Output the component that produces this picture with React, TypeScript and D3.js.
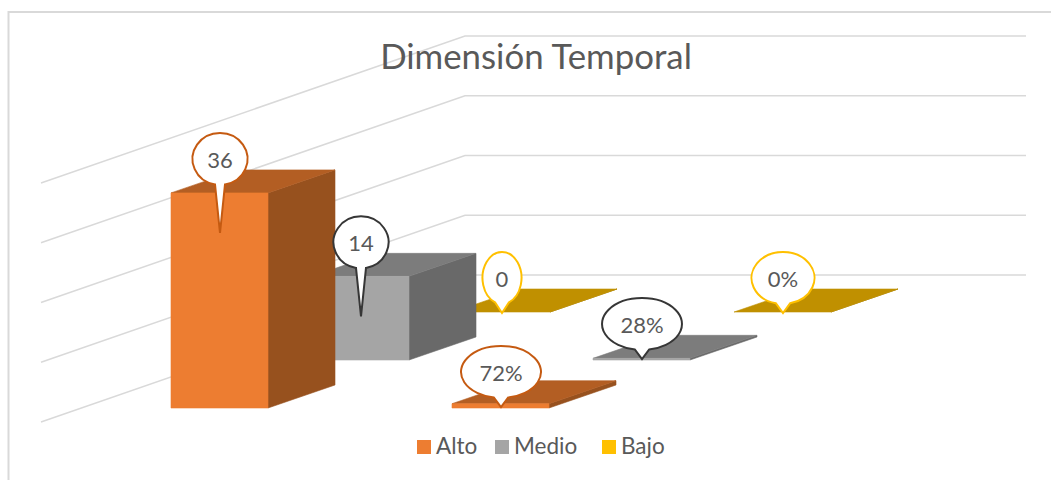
import React from "react";
import * as d3 from "d3";

const WIDTH = 1051;
const HEIGHT = 480;
const FONT = "Lato, Carlito, 'Open Sans', sans-serif";

const title = "Dimensión Temporal";
const seriesNames = ["Alto", "Medio", "Bajo"];
const countValues = [36, 14, 0];
const shareValues = [0.72, 0.28, 0];
const countLabels = ["36", "14", "0"];
const shareLabels = ["72%", "28%", "0%"];
const gridTicks = [0, 10, 20, 30, 40];
const frontColors = ["#ed7d31", "#a5a5a5", "#ffc000"];
const topColors = ["#b35e23", "#7c7c7c", "#c09000"];
const sideColors = ["#97511e", "#696969", "#a37a00"];
const strokeColors = ["#c55a11", "#363636", "#ffc000"];
const legendSwatches = ["#ed7d31", "#a5a5a5", "#ffc000"];

// Projected scales of the pseudo-3D plot
const catX = d3.scaleLinear().domain([0, 1]).range([171, 452]);
const seriesDX = d3.scaleLinear().domain([0, 1]).range([0, 141]);
const seriesBase = d3.scaleLinear().domain([0, 1]).range([408, 360]);
const heightScale = d3.scaleLinear().domain([0, 40]).range([0, 239]);
const BAR_W = 97;
const DEPTH_X = 67;
const DEPTH_Y = -23;

const gridFront = d3.scaleLinear().domain([0, 40]).range([422, 183]);
const GRID_DX = 424;
const GRID_DY = -147;
const GRID_LEFT = 41;
const GRID_RIGHT = 1026;

const poly = (pts: [number, number][]) => d3.line()(pts) + "Z";

function calloutPath(cx: number, cy: number, rx: number, ry: number, tx: number, ty: number, w: number) {
  const by = cy + ry * Math.sqrt(1 - (w / rx) ** 2);
  return `M${cx + w},${by}A${rx},${ry} 0 1 0 ${cx - w},${by}L${tx},${ty}Z`;
}

const rxFor = (s: string) => {
  const pct = s.includes("%");
  const digits = s.replace("%", "").length;
  if (pct) return digits === 2 ? 40 : 31.5;
  return digits === 2 ? 27.5 : 19.5;
};

function Bar({ cat, s, value }: { cat: number; s: number; value: number }) {
  const x0 = catX(cat) + seriesDX(s);
  const x1 = x0 + BAR_W;
  const bottom = seriesBase(s);
  const top = bottom - heightScale(value);
  const topFace = poly([[x0, top], [x1, top], [x1 + DEPTH_X, top + DEPTH_Y], [x0 + DEPTH_X, top + DEPTH_Y]]);
  const side = poly([[x1, top], [x1 + DEPTH_X, top + DEPTH_Y], [x1 + DEPTH_X, bottom + DEPTH_Y], [x1, bottom]]);
  const front = poly([[x0, top], [x1, top], [x1, bottom], [x0, bottom]]);
  return (
    <g strokeWidth={0.6} strokeLinejoin="round">
      <path d={side} fill={sideColors[s]} stroke={sideColors[s]} />
      <path d={topFace} fill={topColors[s]} stroke={topColors[s]} />
      {value > 0 && <path d={front} fill={frontColors[s]} stroke={frontColors[s]} />}
    </g>
  );
}

function Callout({ cat, s, value, label }: { cat: number; s: number; value: number; label: string }) {
  const x0 = catX(cat) + seriesDX(s);
  const bottom = seriesBase(s);
  const top = bottom - heightScale(value);
  const cx = x0 + BAR_W / 2 + 0.5;
  const tall = top + 40 <= bottom;
  const ty = tall ? top + 40 : bottom + (s === 2 ? 1 : -1);
  const cy = tall ? ty - 74 : ty - 35;
  const rx = rxFor(label);
  const ry = 26;
  const w = tall ? 5 : 7;
  return (
    <g>
      <path
        d={calloutPath(cx, cy, rx, ry, cx, ty, Math.min(w, rx * 0.4))}
        fill="#fff"
        stroke={strokeColors[s]}
        strokeWidth={2}
        strokeLinejoin="miter"
      />
      <text x={cx} y={cy + 9} textAnchor="middle" fontSize={22} fill="#595959">
        {label}
      </text>
    </g>
  );
}

export default function App() {
  const order = [2, 1, 0];
  const legendSquareX = [417, 495, 602];
  return (
    <svg
      width={WIDTH}
      height={HEIGHT}
      viewBox={`0 0 ${WIDTH} ${HEIGHT}`}
      style={{ position: "absolute", left: 0, top: 0, background: "#fff" }}
      fontFamily={FONT}
    >
      <path d={`M8.5,${HEIGHT}V12H${WIDTH}`} fill="none" stroke="#d9d9d9" strokeWidth={2} />
      {gridTicks.map((t) => {
        const y = gridFront(t);
        return (
          <path
            key={t}
            d={d3.line()([[GRID_LEFT, y], [GRID_LEFT + GRID_DX, y + GRID_DY], [GRID_RIGHT, y + GRID_DY]]) as string}
            fill="none"
            stroke="#d9d9d9"
            strokeWidth={1.5}
          />
        );
      })}
      <text x={536} y={69} textAnchor="middle" fontSize={34.8} fill="#595959">
        {title}
      </text>
      {order.map((s) => (
        <g key={s}>
          <Bar cat={1} s={s} value={shareValues[s]} />
          <Bar cat={0} s={s} value={countValues[s]} />
        </g>
      ))}
      {order.map((s) => (
        <g key={s}>
          <Callout cat={0} s={s} value={countValues[s]} label={countLabels[s]} />
          <Callout cat={1} s={s} value={shareValues[s]} label={shareLabels[s]} />
        </g>
      ))}
      {seriesNames.map((n, i) => (
        <g key={n}>
          <rect x={legendSquareX[i]} y={440} width={14} height={14} fill={legendSwatches[i]} />
          <text x={legendSquareX[i] + 19} y={454} fontSize={22.5} fill="#595959">
            {n}
          </text>
        </g>
      ))}
    </svg>
  );
}
